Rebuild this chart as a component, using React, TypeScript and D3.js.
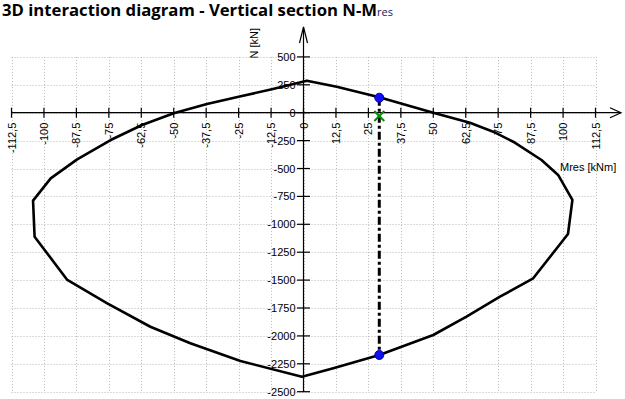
import React from 'react';
import * as d3 from 'd3';

// interaction curve (Mres [kNm], N [kN]) read clockwise from the top
const mres = [1.3, 12.8, 29.2, 50, 64.1, 73.1, 80.8, 91.7, 98.1, 103.6, 101.9, 88.5, 75.7, 62.8, 50, 29.2, 11.5, -0.6,
  -24.3, -43.6, -59, -75.6, -91, -103.6, -104.2, -97.4, -87.2, -74.3, -62.2, -50, -37.2, -25, -12.2];
const nForce = [287, 233, 138, 0, -90, -170, -260, -424, -558, -782, -1087, -1484, -1649, -1828, -1992, -2171, -2290, -2366,
  -2225, -2066, -1918, -1708, -1499, -1111, -788, -588, -418, -245, -110, -5, 78, 143, 210];

// section check
const sectionM = [29.2];
const sectionN = [134, -2171];
const loadM = [29.2];
const loadN = [-30];

const xTicks = [-112.5, -100, -87.5, -75, -62.5, -50, -37.5, -25, -12.5, 0, 12.5, 25, 37.5, 50, 62.5, 75, 87.5, 100, 112.5];
const yTicks = [500, 250, 0, -250, -500, -750, -1000, -1250, -1500, -1750, -2000, -2250, -2500];

const W = 625;
const H = 399;
const font = "'Liberation Sans', Arial, sans-serif";

const fmt = (v: number) => String(v).replace('.', ',');

export default function App() {
  const x = d3.scaleLinear().domain([-112.5, 112.5]).range([11.5, 595.5]);
  const y = d3.scaleLinear().domain([-2500, 500]).range([391.7, 56.9]);

  const pts: [number, number][] = mres.map((m, i) => [m, nForce[i]]);
  const line = d3.line<[number, number]>()
    .x(d => x(d[0]))
    .y(d => y(d[1]))
    .curve(d3.curveLinearClosed);

  const x0 = x(0);
  const y0 = y(0);
  const axisRight = 621;
  const axisTop = 27;

  return (
    <svg width={W} height={H} style={{ position: 'absolute', left: 0, top: 0, background: '#fff' }}
      fontFamily={font}>
      <text x={2} y={16} fontFamily="'Open Sans', 'Noto Sans', sans-serif" fontWeight="bold" fontSize={16}
        fill="#000">
        <tspan textLength={375} lengthAdjust="spacingAndGlyphs">3D interaction diagram - Vertical section N-M</tspan>
        <tspan fontWeight="normal" fontSize={11} fill="#202060">res</tspan>
      </text>

      {/* grid */}
      <g stroke="#b8b8b8" strokeWidth={1} strokeDasharray="1 2">
        {xTicks.map(t => (
          <line key={`gx${t}`} x1={Math.round(x(t)) + 0.5} x2={Math.round(x(t)) + 0.5} y1={y(500)} y2={y(-2500)} />
        ))}
        {yTicks.map(t => (
          <line key={`gy${t}`} x1={x(-112.5)} x2={x(112.5)} y1={Math.round(y(t)) + 0.5} y2={Math.round(y(t)) + 0.5} />
        ))}
      </g>

      {/* axes */}
      <g stroke="#000" strokeWidth={1.2} fill="none">
        <line x1={x(-112.5)} x2={axisRight} y1={y0} y2={y0} />
        <line x1={x0} x2={x0} y1={y(-2500)} y2={axisTop} />
        <path d={`M${axisRight - 11},${y0 - 5} L${axisRight},${y0} L${axisRight - 11},${y0 + 5}`} />
        <path d={`M${x0 - 4},${axisTop + 16} L${x0},${axisTop} L${x0 + 4},${axisTop + 16}`} />
        {xTicks.map(t => (
          <line key={`tx${t}`} x1={x(t)} x2={x(t)} y1={y0 - 5} y2={y0 + 5} />
        ))}
        {yTicks.map(t => (
          <line key={`ty${t}`} x1={x0 - 6.5} x2={x0 + 6.5} y1={y(t)} y2={y(t)} />
        ))}
      </g>

      <g fontSize={11} fill="#000">
        {xTicks.map(t => (
          <text key={`lx${t}`} transform={`translate(${x(t) + 4},${y0 + 10}) rotate(-90)`} textAnchor="end">
            {fmt(t)}
          </text>
        ))}
        {yTicks.map(t => (
          <text key={`ly${t}`} x={x0 - 8} y={y(t) + 4} textAnchor="end">{fmt(t)}</text>
        ))}
        <text transform={`translate(258,28) rotate(-90)`} textAnchor="end">N [kN]</text>
        <text x={560} y={171}>Mres [kNm]</text>
      </g>

      {/* interaction curve */}
      <path d={line(pts) || ''} fill="none" stroke="#000" strokeWidth={2.6} strokeLinejoin="round" />

      {/* section line */}
      <line x1={x(sectionM[0])} x2={x(sectionM[0])} y1={y(sectionN[0])} y2={y(sectionN[1])}
        stroke="#000" strokeWidth={3} strokeDasharray="8 3 3 3" />
      {sectionN.map(n => (
        <circle key={`p${n}`} cx={x(sectionM[0])} cy={y(n)} r={4.5} fill="#1010f0" stroke="#0000c0" strokeWidth={1} />
      ))}
      {loadM.map((m, i) => (
        <g key={`l${i}`} stroke="#0a8a0a" strokeWidth={2}>
          <line x1={x(m) - 5} x2={x(m) + 5} y1={y(loadN[i]) - 5} y2={y(loadN[i]) + 5} />
          <line x1={x(m) - 5} x2={x(m) + 5} y1={y(loadN[i]) + 5} y2={y(loadN[i]) - 5} />
        </g>
      ))}
    </svg>
  );
}
